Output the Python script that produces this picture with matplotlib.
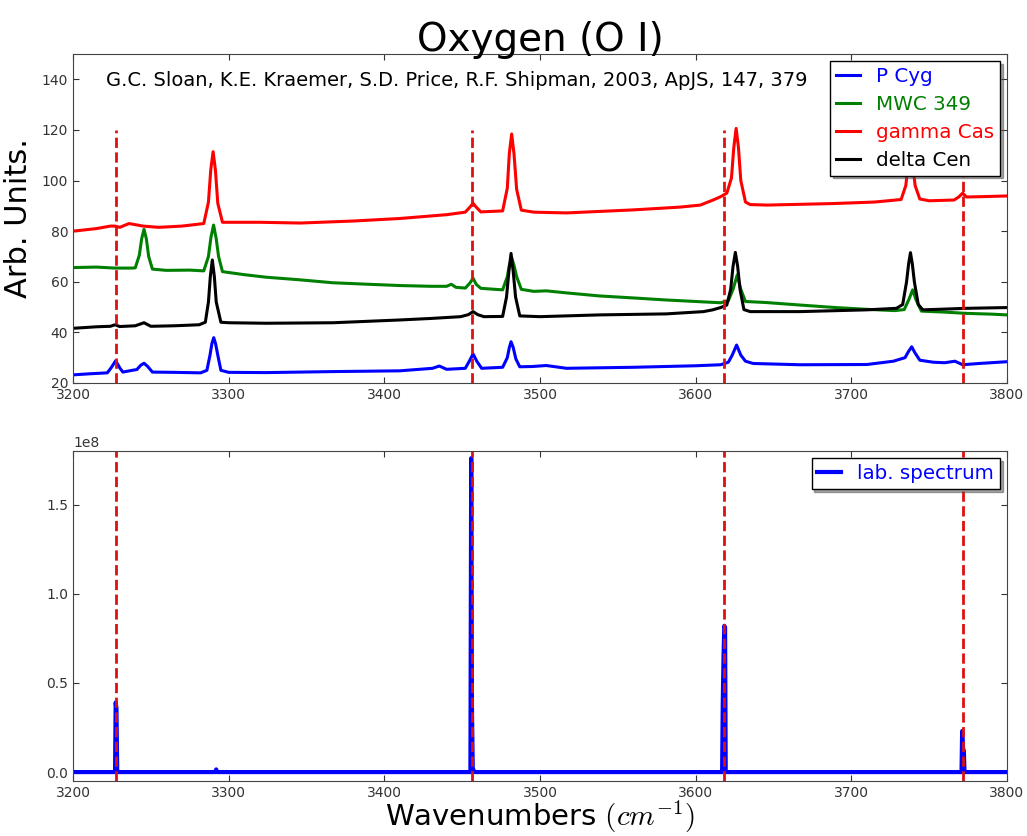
import numpy as np
import matplotlib.pyplot as plt

plt.rcParams["mathtext.fontset"] = "cm"

# ---- data (wavenumber, flux) ----
p_cyg = [
    (3200, 23.2), (3210, 23.6), (3222, 24), (3224.5, 26), (3227.4, 28.8), (3230, 26),
    (3232, 24.3), (3238, 25), (3241, 25.3), (3243.5, 27), (3245.6, 27.8), (3248, 26.5),
    (3251, 24.3), (3265, 24.2), (3282, 24), (3286, 25), (3288, 31), (3289.2, 35.5),
    (3290.4, 37.9), (3291.6, 35.5), (3293, 31), (3295, 25), (3300, 24.2), (3324, 24.1),
    (3367, 24.5), (3410, 24.8), (3431, 25.8), (3435.3, 26.7), (3440, 25.4), (3452, 25.8),
    (3454.5, 28.5), (3457, 31.5), (3459.5, 28.5), (3462.5, 25.8), (3476, 26.2), (3479, 30),
    (3480.3, 34), (3481.4, 36.3), (3482.8, 34), (3484.5, 29.5), (3487, 26.4), (3495, 26.5),
    (3504, 26.9), (3517, 25.8), (3560, 26.2), (3600, 26.8), (3616, 27.2), (3621, 28.2),
    (3623.5, 31), (3626.3, 35), (3629, 31), (3632, 28.6), (3637, 27.7), (3667, 27.2),
    (3710, 27.3), (3727, 28.6), (3734.5, 30), (3736.8, 32.5), (3738.8, 34.3), (3740.8, 32),
    (3744, 29), (3752.6, 28.2), (3760, 28), (3766.6, 28.6), (3771.5, 27.2), (3782, 27.7),
    (3800, 28.4),
]

mwc_349 = [
    (3200, 65.6), (3215, 65.8), (3227, 65.4), (3238, 65.4), (3240, 65.5), (3242.6, 70.5),
    (3244.1, 77), (3245.6, 80.7), (3247.1, 77), (3248.6, 70), (3251, 65), (3260, 64.5),
    (3275, 64.6), (3284, 64.3), (3287, 70), (3288.6, 77.5), (3290.3, 82.4), (3292, 77),
    (3293.5, 70), (3296, 64), (3310, 62.8), (3324, 61.8), (3345, 60.8), (3367, 59.6),
    (3390, 59), (3410, 58.5), (3430, 58.2), (3440, 58.2), (3443, 59), (3446, 57.8),
    (3452, 57.5), (3455, 59.5), (3457, 61.4), (3459, 59), (3462, 57.4), (3476, 56.8),
    (3479, 62), (3480.3, 66.5), (3481.8, 69.5), (3483.3, 66.5), (3485, 62), (3488, 57),
    (3496, 56.2), (3504, 56.4), (3517, 55.6), (3538, 54.4), (3560, 53.6), (3581, 52.8),
    (3600, 52.2), (3616, 51.7), (3621, 52.5), (3624, 57), (3626.7, 62.7), (3629, 57),
    (3632, 52.2), (3645, 51.8), (3667, 50.8), (3690, 49.8), (3710, 49.1), (3728, 48.6),
    (3734, 49), (3737, 53), (3739.4, 56.8), (3741.5, 53), (3745, 48.4), (3760, 48),
    (3774, 47.5), (3790, 47.2), (3800, 46.9),
]

gamma_cas = [
    (3200, 80), (3215, 81), (3224, 82), (3227, 82), (3230, 81.5), (3236, 83), (3245, 82),
    (3255, 81.5), (3270, 82), (3284, 83), (3287, 91.5), (3288.5, 104.3), (3290, 111.4),
    (3291.5, 104), (3293, 91), (3296, 83.5), (3320, 83.5), (3346, 83.2), (3380, 84),
    (3410, 85), (3440, 86.5), (3452, 87.5), (3455, 89.5), (3457, 91), (3459, 89.5),
    (3462, 87.6), (3476, 88), (3479, 97), (3480.3, 110.8), (3481.8, 118.4), (3483.3, 110.5),
    (3485, 96.5), (3488, 88.3), (3496, 87.5), (3517, 87.2), (3560, 88.4), (3590, 89.5),
    (3603, 90.3), (3612, 92.5), (3616, 93.6), (3620, 95), (3623, 101), (3624.5, 113),
    (3626, 120.6), (3627.5, 113), (3629, 100), (3632, 91.5), (3635, 90.5), (3646, 90.3),
    (3688, 90.9), (3715, 91.5), (3732, 92.5), (3735, 98), (3736.5, 106), (3738, 112),
    (3739.5, 106), (3741, 98), (3744, 92.7), (3750, 92), (3766, 92.3), (3769, 93.5),
    (3771.5, 95), (3774, 93.5), (3782, 93.6), (3800, 93.9),
]

delta_cen = [
    (3200, 41.6), (3215, 42.2), (3224, 42.4), (3227, 43), (3230, 42.3), (3240, 42.6),
    (3245.6, 43.8), (3250, 42.4), (3265, 42.6), (3281, 43), (3285, 44), (3287, 52),
    (3288.2, 62), (3289.5, 68.6), (3290.8, 62), (3292, 52), (3295, 44), (3300, 43.8),
    (3324, 43.6), (3367, 43.8), (3410, 44.9), (3430, 45.5), (3449, 46.2), (3454, 47),
    (3457, 48.2), (3460, 47), (3464, 46.2), (3476, 46.3), (3478.5, 54), (3480, 64),
    (3481.4, 71.2), (3482.8, 64), (3484.3, 54), (3487, 46.5), (3500, 46.2), (3538, 46.9),
    (3581, 47.3), (3605, 48.2), (3611, 48.9), (3616, 49.8), (3620, 50.8), (3622.5, 57),
    (3624, 66), (3625.5, 71.6), (3627, 66), (3628.5, 57), (3631, 49), (3635, 48.2),
    (3667, 48.2), (3710, 48.9), (3729, 49.5), (3733, 51), (3735.5, 60), (3736.8, 67),
    (3738, 71.5), (3739.2, 67), (3740.5, 60), (3743, 51), (3746, 48.9), (3760, 49.2),
    (3774, 49.5), (3800, 49.8),
]

lab_spectrum = [
    (3200, 0), (3227, 0), (3227.4, 3.9e7), (3227.9, 3.6e7), (3228.4, 0), (3291.5, 0),
    (3292, 1.5e6), (3292.5, 0), (3455.3, 0), (3455.8, 1.76e8), (3456.3, 3.5e7),
    (3456.8, 2e6), (3458, 0), (3617, 0), (3617.4, 3.8e7), (3617.9, 6.4e7),
    (3618.4, 8.2e7), (3618.9, 8.1e7), (3619.3, 0), (3770.8, 0), (3771.2, 2.3e7),
    (3771.8, 1.3e7), (3772.3, 1.2e7), (3772.7, 0), (3800, 0),
]

oi_lines = [3227.5, 3456.0, 3618.5, 3771.5]

stars = [
    ("P Cyg", p_cyg, "b"),
    ("MWC 349", mwc_349, "g"),
    ("gamma Cas", gamma_cas, "r"),
    ("delta Cen", delta_cen, "k"),
]

reference = "G.C. Sloan, K.E. Kraemer, S.D. Price, R.F. Shipman, 2003, ApJS, 147, 379"
xticks = [3200, 3300, 3400, 3500, 3600, 3700, 3800]


def style_axes(ax):
    ax.tick_params(direction="in", top=True, right=True, labelsize=10,
                   colors="#333333", length=4)
    for sp in ax.spines.values():
        sp.set_color("#444444")


fig = plt.figure(figsize=(10.27, 8.36), dpi=100)
ax1 = fig.add_axes([0.0711, 0.5419, 0.9094, 0.3935])
ax2 = fig.add_axes([0.0711, 0.0658, 0.9094, 0.3947])

# top panel: observed spectra
for name, data, color in stars:
    xy = np.array(data)
    ax1.plot(xy[:, 0], xy[:, 1], color=color, lw=2.2, label=name)

ax1.vlines(oi_lines, 20, 120, colors="#dd1111", linestyles="--", lw=2)
ax1.set_xlim(3200, 3800)
ax1.set_ylim(20, 150)
ax1.set_yticks([20, 40, 60, 80, 100, 120, 140])
ax1.set_xticks(xticks)
ax1.set_ylabel("Arb. Units.", fontsize=22, labelpad=6)
ax1.set_title("Oxygen (O I)", fontsize=28, pad=2)
ax1.text(0.035, 0.92, reference, transform=ax1.transAxes, fontsize=14,
         va="center", ha="left")
style_axes(ax1)

leg = ax1.legend(loc="upper right", fontsize=14.3, shadow=True, fancybox=False,
                 handlelength=1.2, handletextpad=0.8, borderaxespad=0.35,
                 labelspacing=0.45, borderpad=0.3, framealpha=1)
leg.get_frame().set_edgecolor("black")
for txt, (_, _, color) in zip(leg.get_texts(), stars):
    txt.set_color(color)

# bottom panel: laboratory spectrum
lab = np.array(lab_spectrum)
ax2.plot(lab[:, 0], lab[:, 1], color="b", lw=3, label="lab. spectrum")
for x in oi_lines:
    ax2.axvline(x, color="#dd1111", ls="--", lw=2)
ax2.set_xlim(3200, 3800)
ax2.set_ylim(-0.05e8, 1.8e8)
ax2.set_xticks(xticks)
ax2.set_yticks([0, 0.5e8, 1.0e8, 1.5e8])
ax2.set_xlabel(r"Wavenumbers $(cm^{-1})$", fontsize=21, labelpad=-1)
style_axes(ax2)
ax2.yaxis.get_offset_text().set_fontsize(10)

leg2 = ax2.legend(loc="upper right", fontsize=14.3, shadow=True, fancybox=False,
                  handlelength=1.2, handletextpad=0.8, borderaxespad=0.35,
                  borderpad=0.3, framealpha=1)
leg2.get_frame().set_edgecolor("black")
leg2.get_texts()[0].set_color("b")

fig.savefig("out.png", dpi=100)
